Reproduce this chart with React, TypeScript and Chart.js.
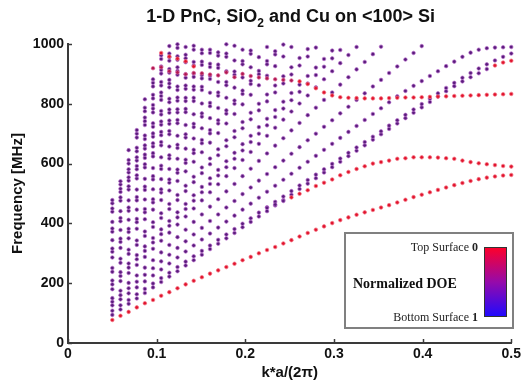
import React, { useEffect, useRef } from "react";
import { Chart, registerables } from "chart.js";

Chart.register(...registerables);

// k*a/(2π) sample positions (50 wavevectors, 0.05 … 0.5)
const K = [
  0.05, 0.0592, 0.0684, 0.0776, 0.0867, 0.0959, 0.1051, 0.1143, 0.1235, 0.1327,
  0.1418, 0.151, 0.1602, 0.1694, 0.1786, 0.1878, 0.1969, 0.2061, 0.2153, 0.2245,
  0.2337, 0.2429, 0.252, 0.2612, 0.2704, 0.2796, 0.2888, 0.298, 0.3071, 0.3163,
  0.3255, 0.3347, 0.3439, 0.3531, 0.3622, 0.3714, 0.3806, 0.3898, 0.399, 0.4082,
  0.4173, 0.4265, 0.4357, 0.4449, 0.4541, 0.4633, 0.4724, 0.4816, 0.4908, 0.5,
];

const xTicks = [0, 0.1, 0.2, 0.3, 0.4, 0.5];
const yTicks = [0, 200, 400, 600, 800, 1000];
const xLabels = ["0", "0.1", "0.2", "0.3", "0.4", "0.5"];
const yLabels = ["0", "200", "400", "600", "800", "1000"];

// ---- surface-localised branches (DOE ≈ 0, red) ----
const redLowest = [
  77, 91, 104, 119, 133, 144, 158, 170, 183, 196, 208, 220, 232, 243, 254, 265, 277, 288, 300, 311,
  321, 333, 344, 356, 368, 379, 390, 401, 411, 420, 429, 437, 445, 453, 461, 470, 479, 488, 496, 504,
  512, 520, 528, 535, 542, 548, 553, 557, 560, 562,
];
const secondModeStart = 19;
const secondModePurple = 3;
const secondMode = [
  452, 463, 475, 487, 499, 511, 525, 536, 547, 561, 572, 582, 591, 600, 605, 610, 616, 618, 621, 621,
  621, 620, 618, 616, 610, 605, 601, 598, 595, 592, 590,
];
const flatModeStart = 5;
const flatModeMixed = 18; // first points only partly surface-localised
const flatMode = [
  919, 922, 909, 905, 899, 903, 902, 898, 895, 905, 889, 900, 893, 888, 885, 882, 880, 878, 875, 866,
  852, 838, 828, 822, 820, 819, 818, 818, 818, 819, 820, 821, 821, 822, 823, 824, 825, 826, 827, 828,
  829, 830, 831, 832, 833,
];
const upperRedStart = 6;
const upperRed = [970, 958, 951, 942, 925];
const tailRedStart = 47;
const tailRed = [928, 938, 944];

// ---- bulk-like bands (DOE ≈ 0.5, purple), values from k index 0 ----
const band01 = [94, 112, 131, 149, 167, 186, 204, 222, 240, 259, 277, 295, 314, 332, 350, 368, 387, 405, 423, 441, 460, 478, 496, 515, 533, 551, 570, 588, 606, 625, 643, 661, 680, 698, 716, 734, 752, 770, 788, 806, 824, 842, 859, 875, 889, 902, 916];
const band02 = [108, 126, 144, 163, 181, 199, 217, 235, 254, 272, 290, 308, 326, 345, 363, 381, 399, 417, 436, 454, 472, 490, 508, 527, 545, 563, 581, 599, 617, 636, 654, 672, 690, 708, 727, 745, 763, 781, 799, 817, 835, 853, 870, 887, 903, 918, 932, 945, 957, 968];
const band03 = [126, 146, 166, 186, 206, 226, 246, 266, 286, 306, 326, 346, 366, 386, 406, 426, 446, 466, 486, 506, 526, 546, 566, 586, 606, 626, 646, 666, 686, 706, 726, 746, 766, 785, 805, 825, 843, 860, 876, 893, 909, 926, 941, 957, 971, 981, 986, 988, 989, 990];
const band04 = [138, 160, 183, 205, 228, 250, 273, 295, 318, 340, 363, 385, 408, 430, 453, 475, 498, 520, 543, 565, 588, 610, 633, 655, 678, 700, 723, 745, 768, 790, 813, 835, 858, 880, 903, 925, 948, 970, 993];
const band05 = [150, 175, 201, 226, 252, 277, 303, 328, 354, 379, 405, 430, 456, 481, 507, 532, 558, 583, 609, 634, 660, 685, 711, 736, 762, 787, 813, 838, 864, 889, 915, 940, 966, 991];
const band06 = [180, 207, 234, 261, 288, 315, 342, 369, 396, 423, 450, 477, 504, 531, 558, 585, 612, 639, 666, 693, 720, 747, 774, 801, 828, 855, 882, 909, 936, 963, 990];
const band07 = [196, 224, 252, 280, 308, 336, 364, 392, 420, 448, 476, 504, 532, 560, 588, 616, 644, 672, 700, 728, 756, 784, 812, 840, 868, 896, 924, 952, 980];
const band08 = [209, 237, 266, 294, 323, 351, 380, 408, 437, 465, 494, 522, 551, 579, 608, 636, 665, 693, 722, 750, 779, 807, 836, 864, 893, 921, 950, 978];
const band09 = [238, 268, 298, 328, 358, 388, 418, 448, 478, 508, 538, 568, 598, 628, 658, 688, 718, 748, 778, 808, 838, 868, 898, 928, 958, 988];
const band10 = [251, 282, 312, 343, 373, 404, 434, 465, 495, 526, 556, 587, 617, 648, 678, 709, 739, 770, 800, 831, 861, 892, 922, 953, 983];
const band11 = [286, 318, 350, 382, 414, 446, 478, 510, 542, 574, 606, 638, 670, 702, 734, 766, 798, 830, 862, 894, 926, 958, 990];
const band12 = [305, 338, 371, 404, 437, 470, 503, 536, 569, 602, 635, 668, 701, 734, 767, 800, 833, 866, 899, 932, 965, 998];
const band13 = [316, 349, 382, 415, 448, 481, 514, 547, 580, 613, 646, 679, 712, 745, 778, 811, 844, 877, 910, 943, 976];
const band14 = [344, 378, 412, 446, 480, 514, 548, 582, 616, 650, 684, 718, 752, 786, 820, 854, 888, 922, 956, 990];
const band15 = [372, 407, 442, 477, 512, 547, 582, 617, 652, 687, 722, 757, 792, 827, 862, 897, 932, 967];
const band16 = [383, 418, 453, 488, 523, 558, 593, 628, 663, 698, 733, 768, 803, 838, 873, 908, 943, 978];
const band17 = [405, 441, 477, 513, 549, 585, 621, 657, 693, 729, 765, 801, 837, 873, 909, 945, 981];
const band18 = [439, 476, 513, 550, 587, 624, 661, 698, 735, 772, 809, 846, 883, 920, 957, 994];
const band19 = [450, 487, 524, 561, 598, 635, 672, 709, 746, 783, 820, 857, 894, 931, 968];
const band20 = [467, 505, 543, 581, 619, 657, 695, 733, 771, 809, 847, 885, 923, 961, 999];
const band21 = [478, 516, 554, 592, 630, 668, 706, 744, 782, 820, 858, 896, 934, 972];
// bands appearing above the bulk cut-off at larger k
const band22 = [530, 570, 610, 650, 690, 730, 770, 810, 850, 890, 930, 970];
const band23 = [541, 581, 621, 661, 701, 741, 781, 821, 861, 901, 941, 981];
const band24 = [600, 641, 682, 723, 764, 805, 846, 887, 928, 969];
const band25 = [612, 653, 694, 735, 776, 817, 858, 899, 940, 981];
const band26 = [645, 687, 729, 771, 813, 855, 897, 939, 981];
const band27 = [700, 742, 784, 826, 868, 910, 952, 994];
const band28 = [712, 754, 796, 838, 880, 922, 964];
const band29 = [775, 818, 861, 904, 947, 990];
const band30 = [787, 830, 873, 916, 959];
const band31 = [815, 858, 901, 944, 987];
const band32 = [870, 913, 956, 999];
const band33 = [882, 925, 968];
const band34 = [950, 993];
const band35 = [962];

const purpleBands: [number, number[]][] = [
  [0, band01], [0, band02], [0, band03], [0, band04], [0, band05], [0, band06], [0, band07],
  [0, band08], [0, band09], [0, band10], [0, band11], [0, band12], [0, band13], [0, band14],
  [0, band15], [0, band16], [0, band17], [0, band18], [0, band19], [0, band20], [0, band21],
  [1, band22], [1, band23], [2, band24], [2, band25], [2, band26], [3, band27], [3, band28],
  [4, band29], [4, band30], [4, band31], [5, band32], [5, band33], [6, band34], [6, band35],
  [secondModeStart, secondMode.slice(0, secondModePurple)],
];
const mixedBands: [number, number[]][] = [
  [flatModeStart, flatMode.slice(0, flatModeMixed)],
];
const redBands: [number, number[]][] = [
  [0, redLowest],
  [secondModeStart + secondModePurple, secondMode.slice(secondModePurple)],
  [flatModeStart + flatModeMixed, flatMode.slice(flatModeMixed)],
  [upperRedStart, upperRed],
  [tailRedStart, tailRed],
];

const toPoints = (start: number, vals: number[]) =>
  vals
    .map((v, i) => ({ x: K[start + i], y: v }))
    .filter((p) => p.x !== undefined && p.y <= 1000);

const SANS = '"Liberation Sans", Arial, Helvetica, sans-serif';
const SERIF = '"Liberation Serif", "Times New Roman", serif';

const overlay = {
  id: "overlay",
  afterDraw(chart: any) {
    const { ctx, chartArea } = chart;
    const xs = chart.scales.x;
    const ys = chart.scales.y;
    ctx.save();
    // inward tick marks
    ctx.strokeStyle = "#3a3a3a";
    ctx.lineWidth = 1.5;
    xTicks.forEach((v) => {
      const px = Math.round(xs.getPixelForValue(v)) + 0.5;
      ctx.beginPath();
      ctx.moveTo(px, chartArea.bottom);
      ctx.lineTo(px, chartArea.bottom - 4);
      ctx.stroke();
    });
    yTicks.forEach((v) => {
      const py = Math.round(ys.getPixelForValue(v)) + 0.5;
      ctx.beginPath();
      ctx.moveTo(chartArea.left, py);
      ctx.lineTo(chartArea.left + 4, py);
      ctx.stroke();
    });

    // title with subscript
    ctx.fillStyle = "#111";
    ctx.textBaseline = "alphabetic";
    ctx.textAlign = "left";
    const big = `bold 18px ${SANS}`;
    const small = `bold 12px ${SANS}`;
    const p1 = "1-D PnC, SiO";
    const p2 = "2";
    const p3 = " and Cu on <100> Si";
    ctx.font = big;
    const w1 = ctx.measureText(p1).width;
    const w3 = ctx.measureText(p3).width;
    ctx.font = small;
    const w2 = ctx.measureText(p2).width;
    let tx = (chartArea.left + chartArea.right) / 2 - (w1 + w2 + w3) / 2 + 1;
    ctx.font = big;
    ctx.fillText(p1, tx, 22);
    tx += w1;
    ctx.font = small;
    ctx.fillText(p2, tx, 27);
    tx += w2;
    ctx.font = big;
    ctx.fillText(p3, tx, 22);

    // axis titles
    ctx.font = `bold 15px ${SANS}`;
    ctx.textAlign = "center";
    ctx.fillText("k*a/(2\u03c0)", (chartArea.left + chartArea.right) / 2, 377);
    ctx.save();
    ctx.translate(22, (chartArea.top + chartArea.bottom) / 2);
    ctx.rotate(-Math.PI / 2);
    ctx.fillText("Frequency [MHz]", 0, 0);
    ctx.restore();

    // colour-bar legend box
    ctx.fillStyle = "#fff";
    ctx.fillRect(345, 233, 168, 95);
    ctx.strokeStyle = "#808080";
    ctx.lineWidth = 2;
    ctx.strokeRect(345, 233, 168, 95);
    const g = ctx.createLinearGradient(0, 247, 0, 317);
    g.addColorStop(0, "rgb(255,0,40)");
    g.addColorStop(0.5, "rgb(150,10,170)");
    g.addColorStop(1, "rgb(30,10,255)");
    ctx.fillStyle = g;
    ctx.fillRect(484, 247, 23, 70);
    ctx.strokeStyle = "#333";
    ctx.lineWidth = 1;
    ctx.strokeRect(484.5, 247.5, 22, 69);

    ctx.fillStyle = "#222";
    ctx.textAlign = "right";
    ctx.font = `bold 12px ${SERIF}`;
    const z = ctx.measureText("0").width;
    const one = ctx.measureText("1").width;
    ctx.fillText("0", 478, 251);
    ctx.fillText("1", 478, 321);
    ctx.font = `12px ${SERIF}`;
    ctx.fillText("Top Surface ", 478 - z, 251);
    ctx.fillText("Bottom Surface ", 478 - one, 321);
    ctx.textAlign = "left";
    ctx.font = `bold 14px ${SERIF}`;
    ctx.fillStyle = "#111";
    ctx.fillText("Normalized DOE", 353, 288);
    ctx.restore();
  },
};

export default function App() {
  const ref = useRef<HTMLCanvasElement | null>(null);
  useEffect(() => {
    document.body.style.margin = "0";
    const canvas = ref.current;
    if (!canvas) return;
    const purplePts = purpleBands.flatMap(([s, v]) => toPoints(s, v));
    const mixedPts = mixedBands.flatMap(([s, v]) => toPoints(s, v));
    const redPts = redBands.flatMap(([s, v]) => toPoints(s, v));
    const chart = new Chart(canvas, {
      type: "scatter",
      data: {
        datasets: [
          {
            label: "surface",
            data: redPts,
            pointRadius: 1.8,
            pointBorderWidth: 0.9,
            backgroundColor: "#e0142e",
            borderColor: "rgba(245,120,135,0.8)",
            clip: false,
          },
          {
            label: "mixed",
            data: mixedPts,
            pointRadius: 1.8,
            pointBorderWidth: 0.9,
            backgroundColor: "#b01850",
            borderColor: "rgba(225,110,160,0.8)",
            clip: false,
          },
          {
            label: "bulk",
            data: purplePts,
            pointRadius: 1.8,
            pointBorderWidth: 0.9,
            backgroundColor: "#5a1c7c",
            borderColor: "rgba(185,110,205,0.75)",
            clip: false,
          },
        ],
      },
      options: {
        responsive: false,
        animation: false,
        events: [],
        layout: { padding: { top: 44, right: 12, left: 0, bottom: 0 } },
        plugins: { legend: { display: false }, tooltip: { enabled: false }, title: { display: false } },
        scales: {
          x: {
            type: "linear",
            min: 0,
            max: 0.5,
            afterBuildTicks: (s: any) => {
              s.ticks = xTicks.map((v) => ({ value: v }));
            },
            afterFit: (s: any) => {
              s.height = 41;
            },
            grid: { display: false, drawTicks: false },
            border: { display: true, color: "#3a3a3a", width: 2 },
            ticks: {
              padding: 3,
              color: "#111",
              font: { family: SANS, size: 14, weight: "bold" },
              callback: (v: any) => xLabels[xTicks.indexOf(Math.round(Number(v) * 10) / 10)] ?? "",
              maxRotation: 0,
            },
          },
          y: {
            type: "linear",
            min: 0,
            max: 1000,
            afterBuildTicks: (s: any) => {
              s.ticks = yTicks.map((v) => ({ value: v }));
            },
            afterFit: (s: any) => {
              s.width = 68;
            },
            grid: { display: false, drawTicks: false },
            border: { display: true, color: "#3a3a3a", width: 2 },
            ticks: {
              padding: 4,
              color: "#111",
              font: { family: SANS, size: 14, weight: "bold" },
              callback: (v: any) => yLabels[yTicks.indexOf(Number(v))] ?? "",
            },
          },
        },
      },
      plugins: [overlay],
    });
    return () => chart.destroy();
  }, []);
  return (
    <div style={{ width: 524, height: 384, position: "relative", background: "#fff" }}>
      <canvas ref={ref} width={524} height={384} />
    </div>
  );
}
